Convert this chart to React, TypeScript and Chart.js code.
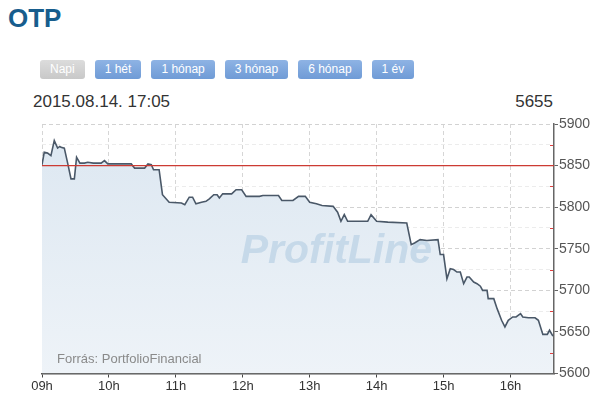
import React, { useEffect, useRef } from "react";
import { Chart, registerables } from "chart.js";
Chart.register(...registerables);

// minutes after 09:00
const minutes = [
  0, 2, 5, 8, 11, 14, 16, 17, 20, 23, 26, 29, 31, 34, 38, 41, 46, 53, 56, 59,
  80, 83, 92, 95, 98, 100, 105, 108, 114, 125, 128, 132, 135, 138, 143, 147,
  150, 154, 157, 159, 162, 170, 174, 179, 183, 195, 198, 212, 215, 225, 230,
  236, 240, 246, 251, 261, 265, 268, 271, 274, 292, 295, 300, 310, 327, 331,
  334, 339, 345, 355, 357, 360, 363, 366, 369, 372, 375, 378, 381, 383, 387,
  390, 393, 395, 399, 400, 405, 408, 412, 415, 418, 422, 425, 429, 431, 436,
  442, 445, 449, 453, 455, 458,
];
const prices = [
  5851, 5866, 5865, 5862, 5880, 5871, 5873, 5872, 5871, 5853, 5834, 5834, 5860,
  5853, 5853, 5854, 5853, 5853, 5856, 5852, 5852, 5847, 5847, 5852, 5851, 5845,
  5845, 5815, 5806, 5805, 5803, 5812, 5812, 5804, 5806, 5807, 5810, 5815, 5815,
  5811, 5816, 5816, 5821, 5821, 5813, 5813, 5814, 5814, 5808, 5808, 5813, 5813,
  5806, 5804, 5802, 5801, 5794, 5783, 5791, 5783, 5783, 5791, 5783, 5782, 5781,
  5755, 5757, 5761, 5760, 5761, 5743, 5743, 5714, 5726, 5725, 5722, 5722, 5708,
  5716, 5716, 5710, 5708, 5705, 5700, 5700, 5690, 5690, 5678, 5664, 5656, 5664,
  5668, 5668, 5672, 5668, 5667, 5667, 5664, 5647, 5647, 5652, 5645,
];
const prevClose = 5850;
const xMin = 0;
const xMax = 459;
const yMin = 5600;
const yMax = 5900;
const hourLabels = ["09h", "10h", "11h", "12h", "13h", "14h", "15h", "16h"];
const buttons = ["Napi", "1 hét", "1 hónap", "3 hónap", "6 hónap", "1 év"];
const title = "OTP";
const stamp = "2015.08.14. 17:05";
const lastPrice = "5655";
const sourceText = "Forrás: PortfolioFinancial";
const watermark = "ProfitLine";

const FONT = "'Liberation Sans', Arial, Helvetica, sans-serif";

export default function App() {
  const ref = useRef<HTMLCanvasElement>(null);

  useEffect(() => {
    const canvas = ref.current!;
    const pts = minutes.map((m, i) => ({ x: m, y: prices[i] }));

    const decor = {
      id: "decor",
      afterDatasetDraw(chart: any, args: any) {
        if (args.index !== 2) return;
        const { ctx, chartArea: a } = chart;
        ctx.save();
        ctx.font = `italic bold 41px ${FONT}`;
        ctx.fillStyle = "#c6d9e9";
        ctx.textAlign = "center";
        ctx.textBaseline = "alphabetic";
        ctx.fillText(watermark, a.left + 0.575 * (a.right - a.left), a.top + 0.557 * (a.bottom - a.top));
        ctx.font = `13px ${FONT}`;
        ctx.fillStyle = "#8a8a8a";
        ctx.textAlign = "left";
        ctx.textBaseline = "middle";
        ctx.fillText(sourceText, a.left + 15, a.bottom - 14);
        ctx.restore();
      },
      afterDraw(chart: any) {
        const { ctx, chartArea: a, scales } = chart;
        ctx.save();
        ctx.strokeStyle = "#e04040";
        ctx.lineWidth = 1;
        for (let v = yMin + 25; v < yMax; v += 50) {
          const y = Math.round(scales.y.getPixelForValue(v)) + 0.5;
          ctx.beginPath();
          ctx.moveTo(a.right - 4, y);
          ctx.lineTo(a.right - 1, y);
          ctx.stroke();
        }
        ctx.restore();
      },
    };

    const chart = new Chart(canvas, {
      type: "line",
      data: {
        datasets: [
          {
            data: [
              { x: xMin, y: prevClose },
              { x: xMax, y: prevClose },
            ],
            borderColor: "#cc3b33",
            borderWidth: 1.3,
            pointRadius: 0,
            fill: false,
          },
          {
            data: pts,
            borderColor: "#4a5868",
            borderWidth: 1.6,
            pointRadius: 0,
            fill: false,
            tension: 0,
          },
          {
            data: pts,
            borderWidth: 0,
            borderColor: "transparent",
            pointRadius: 0,
            fill: "start",
            tension: 0,
            backgroundColor: (c: any) => {
              const area = c.chart.chartArea;
              if (!area) return "#e5edf5";
              const g = c.chart.ctx.createLinearGradient(0, area.top, 0, area.bottom);
              g.addColorStop(0, "#dce7f1");
              g.addColorStop(1, "#eef3f8");
              return g;
            },
          },
        ],
      },
      options: {
        animation: false,
        responsive: false,
        maintainAspectRatio: false,
        events: [],
        layout: { padding: { left: 42, top: 14, right: 0, bottom: 0 } },
        plugins: { legend: { display: false }, tooltip: { enabled: false } },
        scales: {
          x: {
            type: "linear",
            min: xMin,
            max: xMax,
            afterBuildTicks: (s: any) => {
              s.ticks = hourLabels.map((_, i) => ({ value: i * 60 }));
            },
            afterFit: (s: any) => {
              s.height = 34.5;
            },
            ticks: {
              callback: (v: any) => hourLabels[Math.round(v / 60)] ?? "",
              maxRotation: 0,
              autoSkip: false,
              font: { family: FONT, size: 13 },
              color: "#333",
              padding: 1,
            },
            grid: {
              color: "#d6d6d6",
              lineWidth: 1,
              tickLength: 4,
              tickColor: "#444",
            },
            border: { display: true, color: "#555", width: 1.5, dash: [4, 3] },
          },
          y: {
            position: "right",
            min: yMin,
            max: yMax,
            afterFit: (s: any) => {
              s.width = 50;
            },
            ticks: {
              stepSize: 25,
              callback: (v: any) => (v % 50 === 0 ? String(v) : ""),
              font: { family: FONT, size: 14 },
              color: "#555",
              padding: 1,
            },
            grid: {
              color: (c: any) => (c.tick && c.tick.value % 50 === 0 ? "#d2d2d2" : "#ececec"),
              lineWidth: 1,
              tickLength: 4,
              tickColor: (c: any) => (c.tick && c.tick.value % 50 === 0 ? "#666" : "transparent"),
            },
            border: { display: true, color: "#666", width: 1.5, dash: [4, 3] },
          },
        },
      },
      plugins: [decor],
    } as any);

    return () => chart.destroy();
  }, []);

  return (
    <div
      style={{
        position: "absolute",
        left: 0,
        top: 0,
        width: 604,
        height: 408,
        background: "#fff",
        fontFamily: FONT,
        overflow: "hidden",
      }}
    >
      <div
        style={{
          position: "absolute",
          left: 8,
          top: 5,
          fontSize: 26,
          lineHeight: "26px",
          fontWeight: "bold",
          color: "#175d8d",
        }}
      >
        {title}
      </div>
      <div style={{ position: "absolute", left: 40, top: 60, display: "flex", gap: 10 }}>
        {buttons.map((b, i) => (
          <div
            key={b}
            style={{
              height: 19,
              padding: "0 10px",
              borderRadius: 3,
              fontSize: 12,
              lineHeight: "19px",
              color: "#fff",
              background: i === 0 ? "linear-gradient(#dcdcdc, #c8c8c8)" : "linear-gradient(#8eb3e4, #6f9bd6)",
            }}
          >
            {b}
          </div>
        ))}
      </div>
      <div style={{ position: "absolute", left: 33, top: 93, fontSize: 17, lineHeight: "17px", color: "#333" }}>
        {stamp}
      </div>
      <div
        style={{
          position: "absolute",
          right: 51,
          top: 93,
          fontSize: 17,
          lineHeight: "17px",
          color: "#333",
          textAlign: "right",
        }}
      >
        {lastPrice}
      </div>
      <canvas ref={ref} width={604} height={298} style={{ position: "absolute", left: 0, top: 110, display: "block" }} />
    </div>
  );
}
